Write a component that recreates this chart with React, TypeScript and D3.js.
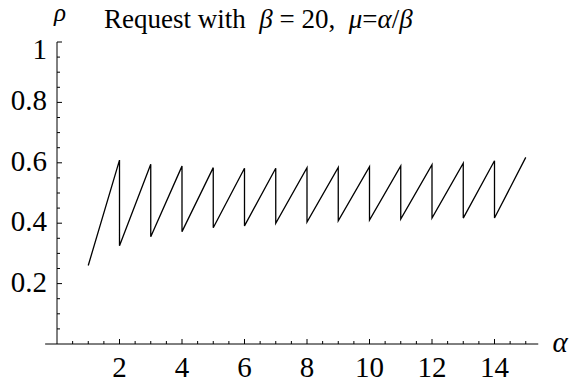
import React from "react";
import * as d3 from "d3";

// Sawtooth of ρ against α: value just before each integer jump (peak) and just after it (trough)
const startAlpha = 1;
const startRho = 0.26;
const jumpAlphas = [2, 3, 4, 5, 6, 7, 8, 9, 10, 11, 12, 13, 14];
const peakRho = [0.609, 0.595, 0.589, 0.584, 0.582, 0.582, 0.584, 0.585, 0.587, 0.59, 0.594, 0.599, 0.607];
const troughRho = [0.325, 0.355, 0.372, 0.385, 0.391, 0.4, 0.404, 0.408, 0.41, 0.414, 0.417, 0.417, 0.417];
const endAlpha = 15;
const endRho = 0.618;

const xTickLabels = [2, 4, 6, 8, 10, 12, 14];
const yTickLabels = [0.2, 0.4, 0.6, 0.8, 1];

const W = 572;
const H = 386;
const SERIF_CSS = `.plot text { font-family: "Liberation Serif", "Times New Roman", Times, serif !important; }`;

export default function App() {
  const x = d3.scaleLinear().domain([0, 15]).range([57, 525.75]);
  const y = d3.scaleLinear().domain([0, 1]).range([344, 42]);

  const pts: [number, number][] = [[startAlpha, startRho]];
  jumpAlphas.forEach((a, i) => {
    pts.push([a, peakRho[i]]);
    pts.push([a, troughRho[i]]);
  });
  pts.push([endAlpha, endRho]);

  const line = d3
    .line<[number, number]>()
    .x((d) => x(d[0]))
    .y((d) => y(d[1]));

  const xMinor = d3.range(0.5, 15.01, 0.5).filter((v) => Math.abs(v % 2) > 1e-6);
  const yMinor = d3.range(0.05, 1.001, 0.05).filter((v) => !yTickLabels.some((t) => Math.abs(t - v) < 1e-6));

  const fmt = (v: number) => (v === 1 ? "1" : d3.format(".1f")(v));

  return (
    <svg
      className="plot"
      width={W}
      height={H}
      style={{ position: "absolute", left: 0, top: 0, fontFamily: "Liberation Serif" }}
    >
      <style>{SERIF_CSS}</style>

      {/* title */}
      <text x={104} y={28} fontSize={27} fontFamily="Liberation Serif">
        <tspan>{"Request with\u00a0\u00a0"}</tspan>
        <tspan fontStyle="italic">β</tspan>
        <tspan>{"\u00a0=\u00a020,\u00a0\u00a0"}</tspan>
        <tspan fontStyle="italic">μ</tspan>
        <tspan>=</tspan>
        <tspan fontStyle="italic">α</tspan>
        <tspan>/</tspan>
        <tspan fontStyle="italic">β</tspan>
      </text>

      {/* axes */}
      <line x1={x(-0.38)} x2={x(15.4)} y1={y(0)} y2={y(0)} stroke="#000" strokeWidth={1} />
      <line x1={x(0)} x2={x(0)} y1={y(0)} y2={y(1)} stroke="#000" strokeWidth={1} />

      {xTickLabels.map((v) => (
        <g key={"xt" + v}>
          <line x1={x(v)} x2={x(v)} y1={y(0)} y2={y(0) - 5} stroke="#000" />
          <text x={x(v)} y={377} fontSize={29} textAnchor="middle" fontFamily="Liberation Serif">
            {String(v)}
          </text>
        </g>
      ))}
      {xMinor.map((v) => (
        <line key={"xm" + v} x1={x(v)} x2={x(v)} y1={y(0)} y2={y(0) - 3} stroke="#000" />
      ))}

      {yTickLabels.map((v) => (
        <g key={"yt" + v}>
          <line x1={x(0)} x2={x(0) + 5} y1={y(v)} y2={y(v)} stroke="#000" />
          <text x={47} y={y(v) + (v === 1 ? 17 : 8)} fontSize={29} textAnchor="end" fontFamily="Liberation Serif">
            {fmt(v)}
          </text>
        </g>
      ))}
      {yMinor.map((v) => (
        <line key={"ym" + v} x1={x(0)} x2={x(0) + 3} y1={y(v)} y2={y(v)} stroke="#000" />
      ))}

      {/* axis labels */}
      <text x={60} y={21} fontSize={25} fontStyle="italic" textAnchor="middle" fontFamily="Liberation Serif">
        ρ
      </text>
      <text x={560} y={352} fontSize={29} fontStyle="italic" textAnchor="middle" fontFamily="Liberation Serif">
        α
      </text>

      <path d={line(pts) ?? ""} fill="none" stroke="#000" strokeWidth={1.3} />
    </svg>
  );
}
